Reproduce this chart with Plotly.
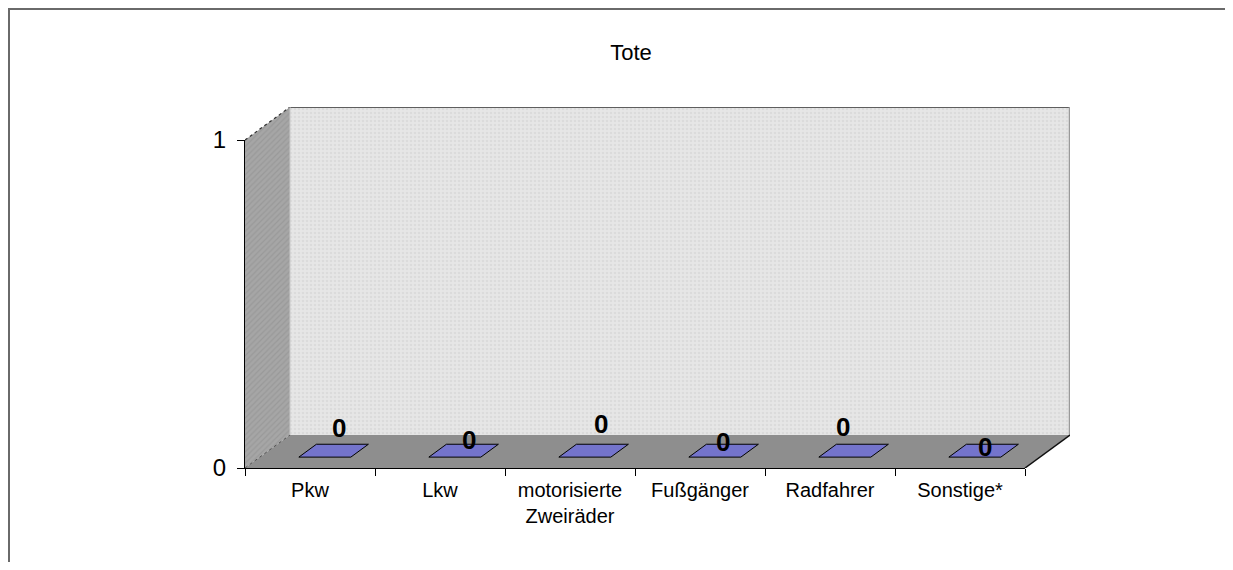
import plotly.graph_objects as go

categories = ["Pkw", "Lkw", "motorisierte<br>Zweiräder", "Fußgänger", "Radfahrer", "Sonstige*"]
tote = [0, 0, 0, 0, 0, 0]
y_ticks = [0, 1]
title = "Tote"

# the page has an 8px body margin, so the figure is made 16px smaller than the window
OFF = 8
W, H = 1233 - 2 * OFF, 570 - 2 * OFF
FONT = "Arial, Liberation Sans, sans-serif"

# front plane of the 3d box in window pixels, and the depth offset of the back wall
FX0, FX1 = 245, 1025
FY0, FY1 = 468, 140
DEPTH_PX = (45, 33)

# where the flat bars sit inside the depth, and how wide they are
BAR_W = 0.4
BAR_F0, BAR_F1 = 0.33, 0.72
# small per label nudges (pixels), like the Excel placement
label_nudge = [(5, 6), (5, -6), (7, 10), (-1, -8), (-11, 7), (1, -13)]


def fx(p):
    return (p - OFF) / W


def fy(p):
    return 1 - (p - OFF) / H


n = len(categories)
ymax = max(y_ticks)
px_cat = (FX1 - FX0) / n
px_val = (FY0 - FY1) / ymax
dx = DEPTH_PX[0] / px_cat
dy = DEPTH_PX[1] / px_val


def poly(xs, ys, fill, line_color=None, width=1, pattern=None):
    tr = go.Scatter(
        x=xs + xs[:1], y=ys + ys[:1],
        mode="lines", fill="toself", fillcolor=fill,
        line=dict(color=line_color or fill, width=width if line_color else 0),
        hoverinfo="skip", showlegend=False,
    )
    if pattern:
        tr.fillpattern = pattern
    return tr


def edge(xs, ys, color="#202020", width=1.2, dash=None):
    return go.Scatter(
        x=xs, y=ys, mode="lines",
        line=dict(color=color, width=width, dash=dash),
        hoverinfo="skip", showlegend=False,
    )


fig = go.Figure()

x_left, x_right = -0.5, n - 0.5

# back wall
fig.add_trace(poly(
    [x_left + dx, x_right + dx, x_right + dx, x_left + dx],
    [dy, dy, ymax + dy, ymax + dy],
    "#e4e4e4",
    pattern=dict(shape=".", bgcolor="#e6e6e6", fgcolor="#d0d0d0", size=4, solidity=0.35),
))
# left wall
fig.add_trace(poly(
    [x_left, x_left + dx, x_left + dx, x_left],
    [0, dy, ymax + dy, ymax],
    "#a0a0a0",
    pattern=dict(shape="/", bgcolor="#a6a6a6", fgcolor="#8c8c8c", size=4, solidity=0.3),
))
# floor
fig.add_trace(poly(
    [x_left, x_right, x_right + dx, x_left + dx],
    [0, 0, dy, dy],
    "#8e8e8e",
))
fig.add_trace(edge([x_left + dx, x_right + dx], [ymax + dy, ymax + dy], "#303030", 1.5))
fig.add_trace(edge([x_right + dx, x_right + dx], [dy, ymax + dy], "#9a9a9a", 2.5))
fig.add_trace(edge([x_left, x_left + dx], [ymax, ymax + dy], "#303030", 1.2, "dot"))
fig.add_trace(edge([x_left, x_left + dx], [0, dy], "#505050", 1.0, "dot"))
fig.add_trace(edge([x_right, x_right + dx], [0, dy], "#101010", 1.5))
fig.add_trace(edge([x_left + dx, x_left + dx], [dy, ymax + dy], "#c8c8c8", 1.0))

# the bars (flat when the value is 0)
for i, v in enumerate(tote):
    a, b = i - BAR_W / 2, i + BAR_W / 2
    top_x = [a + BAR_F0 * dx, b + BAR_F0 * dx, b + BAR_F1 * dx, a + BAR_F1 * dx]
    top_y = [v + BAR_F0 * dy, v + BAR_F0 * dy, v + BAR_F1 * dy, v + BAR_F1 * dy]
    if v > 0:
        fig.add_trace(poly(
            [a + BAR_F0 * dx, b + BAR_F0 * dx, b + BAR_F0 * dx, a + BAR_F0 * dx],
            [BAR_F0 * dy, BAR_F0 * dy, v + BAR_F0 * dy, v + BAR_F0 * dy],
            "#6666bb", "#000000",
        ))
        fig.add_trace(poly(
            [b + BAR_F0 * dx, b + BAR_F1 * dx, b + BAR_F1 * dx, b + BAR_F0 * dx],
            [BAR_F0 * dy, BAR_F1 * dy, v + BAR_F1 * dy, v + BAR_F0 * dy],
            "#5252a0", "#000000",
        ))
    fig.add_trace(poly(top_x, top_y, "#7474cc", "#000000", 1))

    fm = (BAR_F0 + BAR_F1) / 2
    fig.add_annotation(
        x=i + fm * dx, y=v + fm * dy, xref="x", yref="y",
        text=f"<b>{v}</b>", showarrow=False, yanchor="bottom",
        xshift=label_nudge[i][0], yshift=label_nudge[i][1],
        font=dict(family=FONT, size=26, color="#000000"),
    )

# invisible trace that carries the front axes (category axis, value axis)
fig.add_trace(go.Scatter(
    x=categories, y=tote, xaxis="x2", yaxis="y2",
    mode="markers", marker=dict(opacity=0),
    hoverinfo="skip", showlegend=False,
))

border = dict(color="#6a6a6a", width=2)

fig.update_layout(
    width=W, height=H,
    margin=dict(l=0, r=0, t=0, b=0, autoexpand=False),
    paper_bgcolor="white",
    plot_bgcolor="rgba(0,0,0,0)",
    font=dict(family=FONT, color="#000000"),
    title=dict(
        text=title, x=fx(631), y=fy(52),
        xanchor="center", yanchor="middle",
        font=dict(family=FONT, size=22, color="#000000"),
    ),
    xaxis=dict(
        domain=[fx(FX0), fx(FX1 + DEPTH_PX[0])],
        range=[x_left, x_right + dx], visible=False, fixedrange=True, automargin=False,
    ),
    yaxis=dict(
        domain=[fy(FY0), fy(FY1 - DEPTH_PX[1])],
        range=[0, ymax + dy], visible=False, fixedrange=True, automargin=False,
    ),
    xaxis2=dict(
        domain=[fx(FX0), fx(FX1)], anchor="y2",
        type="category", categoryorder="array", categoryarray=categories,
        range=[-0.5, n - 0.5], tickson="boundaries",
        ticks="outside", ticklen=7, tickcolor="#000000", tickwidth=1,
        ticklabelstandoff=4,
        showline=True, linecolor="#000000", linewidth=1,
        showgrid=False, zeroline=False, fixedrange=True, automargin=False,
        tickfont=dict(family=FONT, size=20, color="#000000"),
    ),
    yaxis2=dict(
        domain=[fy(FY0), fy(FY1)], anchor="x2",
        range=[0, ymax], tickvals=y_ticks,
        ticks="outside", ticklen=7, tickcolor="#000000", tickwidth=1,
        ticklabelstandoff=6,
        showline=True, linecolor="#000000", linewidth=1,
        showgrid=False, zeroline=False, fixedrange=True, automargin=False,
        tickfont=dict(family=FONT, size=24, color="#000000"),
    ),
    shapes=[
        dict(type="line", xref="paper", yref="paper",
             x0=1 / W, x1=1 / W, y0=0, y1=1, line=border),
        dict(type="line", xref="paper", yref="paper",
             x0=0, x1=1, y0=1 - 1 / H, y1=1 - 1 / H, line=border),
    ],
)

fig.write_html("out.html")
